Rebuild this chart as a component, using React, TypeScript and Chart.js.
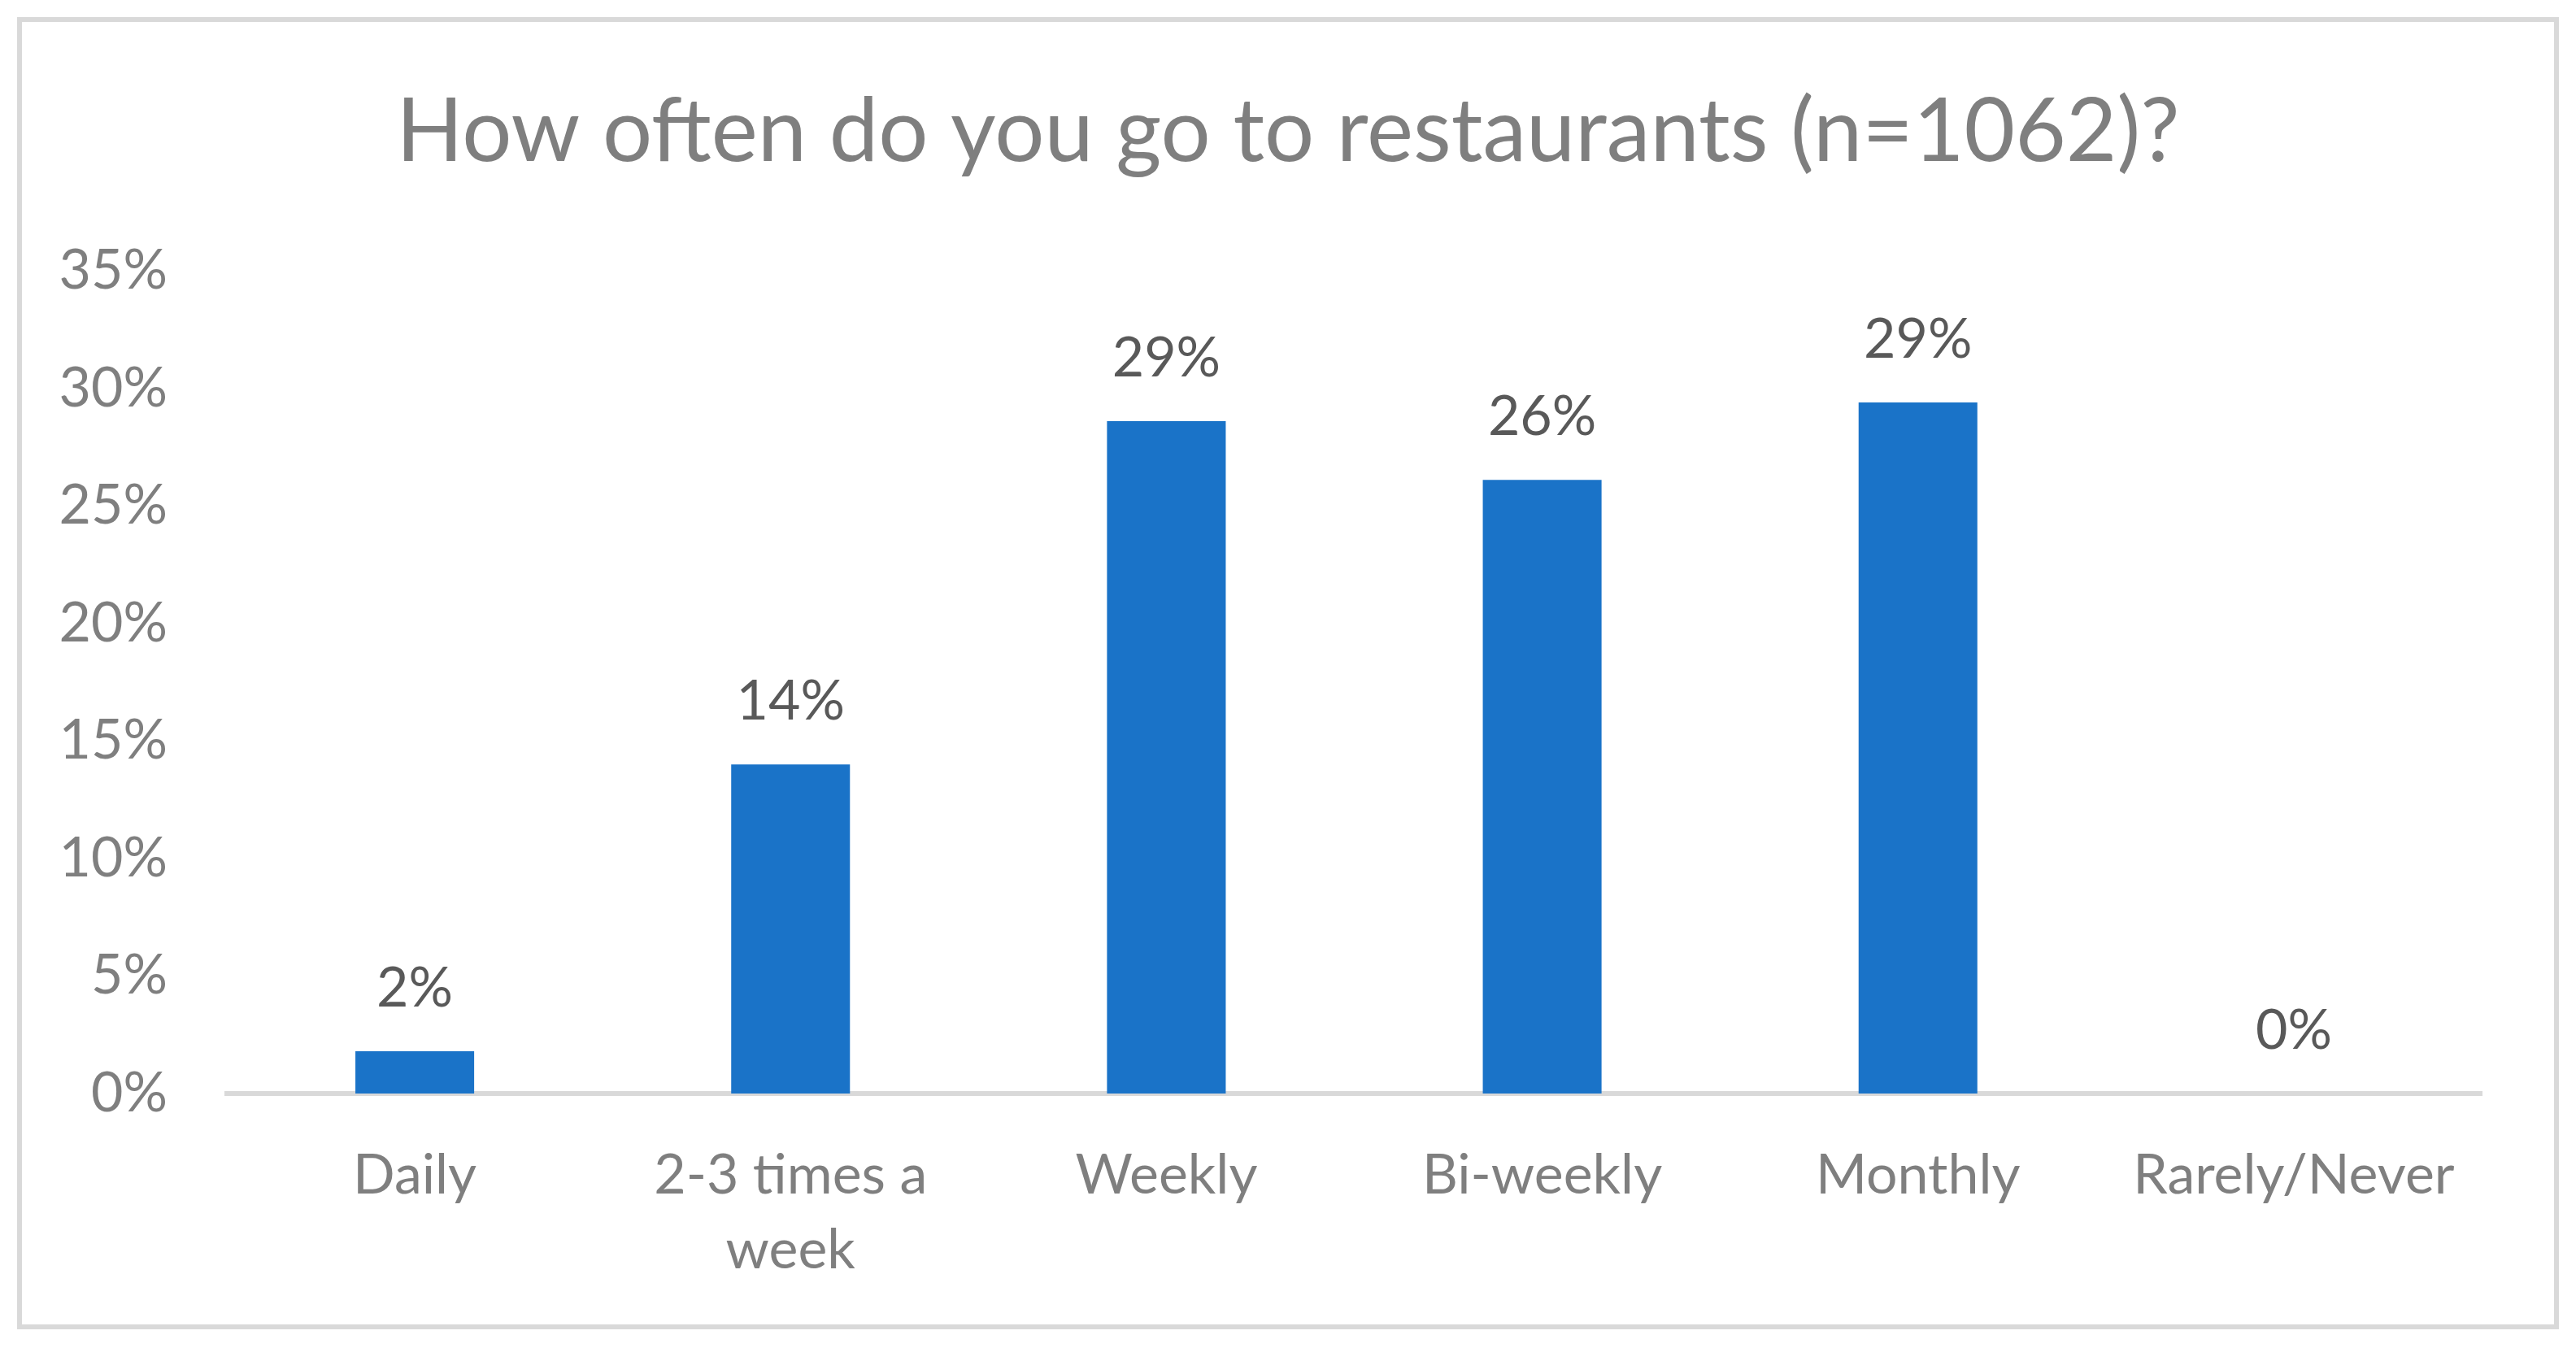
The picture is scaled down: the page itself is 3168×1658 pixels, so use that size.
import React, { useEffect, useRef } from 'react';
import { Chart, registerables } from 'chart.js';

Chart.register(...registerables);

const chartTitle = 'How often do you go to restaurants (n=1062)?';
const categories: (string | string[])[] = ['Daily', ['2-3 times a', 'week'], 'Weekly', 'Bi-weekly', 'Monthly', 'Rarely/Never'];
const values = [1.8, 14.0, 28.6, 26.1, 29.4, 0];
const yMin = 0;
const yMax = 35;
const yStep = 5;

const W = 3168;
const H = 1658;
const FONT = 'Lato';
const GREY = '#7f7f7f';
const LABEL_GREY = '#595959';
const BAR = '#1a73c8';
const LINE = '#d9d9d9';

const framePlugin = {
  id: 'frame',
  beforeDraw(chart: any) {
    const ctx = chart.ctx;
    ctx.save();
    ctx.fillStyle = '#ffffff';
    ctx.fillRect(0, 0, chart.width, chart.height);
    ctx.strokeStyle = LINE;
    ctx.lineWidth = 6;
    ctx.strokeRect(24, 24, 3120, 1608);
    ctx.restore();
  },
  afterDraw(chart: any) {
    const ctx = chart.ctx;
    ctx.save();
    ctx.fillStyle = GREY;
    ctx.font = `108px ${FONT}`;
    ctx.textAlign = 'center';
    ctx.textBaseline = 'alphabetic';
    ctx.fillText(chartTitle, chart.width / 2, 198);
    ctx.restore();
  },
};

const valueLabelPlugin = {
  id: 'valueLabels',
  afterDatasetsDraw(chart: any) {
    const ctx = chart.ctx;
    const meta = chart.getDatasetMeta(0);
    ctx.save();
    ctx.fillStyle = LABEL_GREY;
    ctx.font = `68px ${FONT}`;
    ctx.textAlign = 'center';
    ctx.textBaseline = 'alphabetic';
    meta.data.forEach((el: any, i: number) => {
      const v = values[i];
      ctx.fillText(`${Math.round(v)}%`, el.x, el.y - 55);
    });
    ctx.restore();
  },
};

export default function App() {
  const ref = useRef<HTMLCanvasElement | null>(null);
  useEffect(() => {
    if (!ref.current) return;
    const chart = new Chart(ref.current, {
      type: 'bar',
      data: {
        labels: categories as any,
        datasets: [
          {
            data: values,
            backgroundColor: BAR,
            borderWidth: 0,
            categoryPercentage: 1,
            barPercentage: 0.316,
          },
        ],
      },
      options: {
        animation: false,
        responsive: false,
        devicePixelRatio: 1,
        layout: { padding: { top: 333, right: 116, bottom: 0, left: 0 } },
        plugins: {
          legend: { display: false },
          title: { display: false },
          tooltip: { enabled: false },
        },
        scales: {
          x: {
            grid: { display: false, drawTicks: false },
            border: { display: true, color: LINE, width: 6 },
            ticks: {
              color: GREY,
              font: { family: FONT, size: 68, lineHeight: 1.353 },
              padding: 55,
              maxRotation: 0,
              autoSkip: false,
            },
            afterFit(scale: any) {
              scale.height = H - 1345;
            },
          },
          y: {
            min: yMin,
            max: yMax,
            grid: { display: false, drawTicks: false },
            border: { display: false },
            ticks: {
              stepSize: yStep,
              color: GREY,
              font: { family: FONT, size: 68 },
              padding: 73,
              callback: (v: any) => `${v}%`,
            },
            afterFit(scale: any) {
              scale.width = 279;
            },
          },
        },
      },
      plugins: [framePlugin, valueLabelPlugin],
    });
    return () => chart.destroy();
  }, []);
  return (
    <div style={{ position: 'fixed', left: 0, top: 0, width: W, height: H, background: '#fff' }}>
      <canvas ref={ref} width={W} height={H} style={{ width: W, height: H, display: 'block' }} />
    </div>
  );
}
